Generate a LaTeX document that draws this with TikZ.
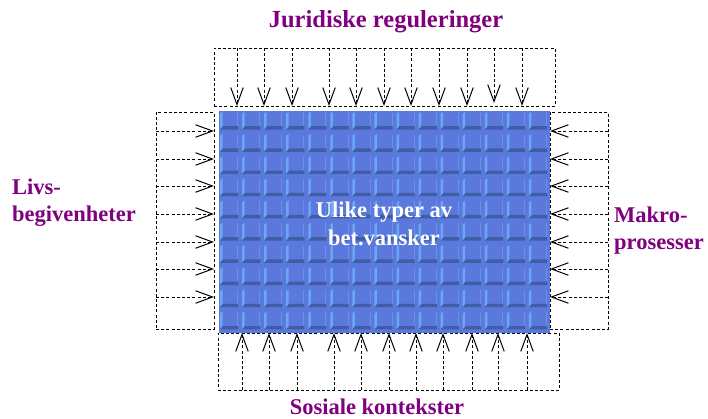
\documentclass[tikz,border=0pt]{standalone}
\usepackage{fontspec}
\setmainfont{Liberation Serif}
\usetikzlibrary{arrows.meta}
\definecolor{labelpurple}{HTML}{800080}
\definecolor{tilebase}{HTML}{5B78DC}
\definecolor{tilelight}{HTML}{6AA8F6}
\definecolor{tilepale}{HTML}{6C90E8}
\definecolor{tiledark}{HTML}{3F5EA6}
\begin{document}
\begin{tikzpicture}[x=1pt,y=-1pt,
  dashbox/.style={draw=black, line width=0.95pt, dash pattern=on 3pt off 2.2pt,
    inner sep=0pt, outer sep=0pt},
  arr/.style={draw=black, line width=0.95pt, dash pattern=on 3pt off 2.2pt,
    -{Straight Barb[length=17pt,width=12.5pt,line width=1pt]}},
  lbl/.style={font=\fontsize{22.5}{27}\selectfont\bfseries, text=labelpurple, inner sep=0pt},
  inner/.style={font=\fontsize{22.5}{27}\selectfont\bfseries, text=white, inner sep=0pt},
]
\useasboundingbox (0,0) rectangle (708,419);

% tiled blue field
\node[fill=tilebase, inner sep=0pt, outer sep=0pt,
      minimum width=331pt, minimum height=222pt] (core) at (384.5,222) {};
\foreach \i in {0,...,14}{
  \foreach \j in {0,...,9}{
    \pgfmathsetmacro\xa{219+\i*22.0667}
    \pgfmathsetmacro\ya{111+\j*22.2}
    % bevelled edges of one tile
    \fill[tilepale] (\xa+18.2,\ya+1.5) rectangle (\xa+19.2,\ya+15);
    \fill[tilelight] (\xa+1,\ya+2.5) -- (\xa+3.5,\ya+0.8) -- (\xa+3.5,\ya+15.5) -- (\xa+1,\ya+18.5) -- cycle;
    \fill[tiledark] (\xa+1,\ya+18.6) -- (\xa+4,\ya+15.2) -- (\xa+19.2,\ya+15.2) -- (\xa+19.2,\ya+18.6) -- cycle;
  }
}
\node[inner, anchor=base] (t1) at (384,218) {Ulike typer av};
\node[inner, anchor=base] (t2) at (384,245) {bet.vansker};

% dashed frames around the field
\node[dashbox, minimum width=341pt, minimum height=58pt] (top) at (384.5,77) {};
\node[dashbox, minimum width=58pt, minimum height=217pt] (left) at (185,220.5) {};
\node[dashbox, minimum width=58pt, minimum height=217pt] (right) at (579,220.5) {};
\node[dashbox, minimum width=341pt, minimum height=57pt] (bottom) at (388.5,361.5) {};

% arrows pushing inwards
\foreach \x in {237,264,292,329,356,384,411,439,467,522}
  \draw[arr] (top.north -| \x,0) -- (top.south -| \x,0);
\draw[arr] (top.north -| 494,0) -- ([yshift=3pt]top.south -| 494,0);
\foreach \y in {131,159,186,214,242,269,297}{
  \draw[arr] (left.west |- 0,\y) -- (left.east |- 0,\y);
  \draw[arr] (right.east |- 0,\y) -- (right.west |- 0,\y);
}
\foreach \x in {242,269,297,334,361,389,416,443,472,498,527}
  \draw[arr] (bottom.south -| \x,0) -- (bottom.north -| \x,0);

% labels
\node[lbl, anchor=base, font=\fontsize{24.5}{29}\selectfont\bfseries] (jur) at (386,28) {Juridiske reguleringer};
\node[lbl, anchor=base] (sos) at (377,414) {Sosiale kontekster};
\node[lbl, anchor=base west] (liv1) at (12,195) {Livs-};
\node[lbl, anchor=base west] (liv2) at (12,222) {begivenheter};
\node[lbl, anchor=base west] (mak1) at (614,223) {Makro-};
\node[lbl, anchor=base west] (mak2) at (614,250) {prosesser};
\end{tikzpicture}
\end{document}
